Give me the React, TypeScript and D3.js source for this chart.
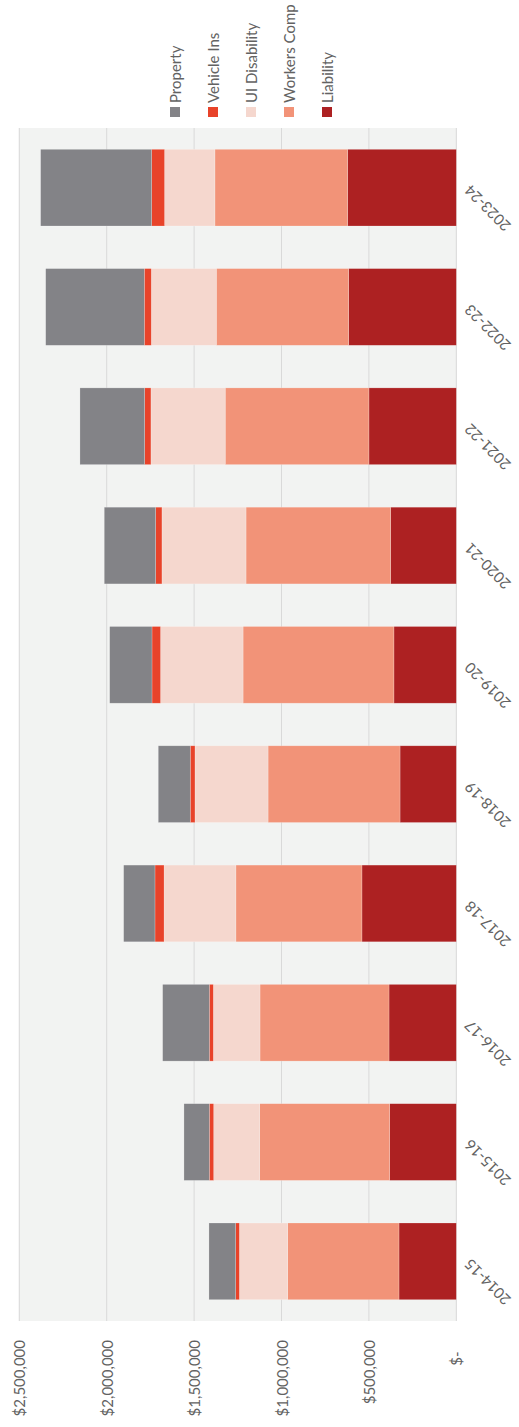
import React, { useRef, useEffect } from 'react'
import * as d3 from 'd3'

// fiscal years, left to right in the unrotated chart
const years = ['2014-15', '2015-16', '2016-17', '2017-18', '2018-19', '2019-20', '2020-21', '2021-22', '2022-23', '2023-24']

// cost per line, in dollars
const liability = [328000, 381000, 385000, 540000, 322000, 357000, 376000, 500000, 616000, 622000]
const workersComp = [637000, 744000, 738000, 721000, 755000, 863000, 827000, 822000, 757000, 759000]
const uiDisability = [276000, 263000, 267000, 411000, 418000, 472000, 481000, 425000, 372000, 288000]
const vehicleIns = [21000, 25000, 23000, 52000, 27000, 49000, 36000, 36000, 40000, 74000]
const property = [153000, 145000, 267000, 179000, 183000, 242000, 294000, 370000, 564000, 635000]

const legendNames = ['Property', 'Vehicle Ins', 'UI Disability', 'Workers Comp', 'Liability']
const valueTicks = [0, 500000, 1000000, 1500000, 2000000, 2500000]

const colors: Record<string, string> = {
    'Property': '#838387',
    'Vehicle Ins': '#e8432a',
    'UI Disability': '#f5d7ce',
    'Workers Comp': '#f29378',
    'Liability': '#ad2122',
}

export default function App() {
    const svgRef = useRef<SVGSVGElement>(null)

    // the picture is the chart turned a quarter to the left
    const pageW = 519
    const pageH = 1427

    useEffect(() => {
        const svg = d3.select(svgRef.current)
        svg.selectAll('*').remove()

        // unrotated frame: pageH wide, pageW tall
        const plotLeft = 106
        const plotRight = 1299
        const plotTop = 19.3
        const plotBottom = 456.3
        const font = 'Lato, "Open Sans", sans-serif'
        const fontSize = 15
        const textColor = '#626262'

        const g = svg.append('g')
            .attr('transform', `translate(0,${pageH}) rotate(-90)`)

        const table = years.map((y, i) => ({
            year: y,
            'Liability': liability[i],
            'Workers Comp': workersComp[i],
            'UI Disability': uiDisability[i],
            'Vehicle Ins': vehicleIns[i],
            'Property': property[i],
        }))

        const xScale = d3.scaleBand()
            .domain(years)
            .range([plotLeft, plotRight])
            .paddingInner(0.357)
            .paddingOuter(0.1785)

        const yScale = d3.scaleLinear()
            .domain([0, 2500000])
            .range([plotBottom, plotTop])

        // plot background
        g.append('rect')
            .attr('x', plotLeft)
            .attr('y', plotTop - 0.5)
            .attr('width', plotRight - plotLeft)
            .attr('height', plotBottom - plotTop + 1)
            .attr('fill', '#f2f3f2')

        // gridlines
        g.append('g')
            .selectAll('line')
            .data(valueTicks)
            .join('line')
                .attr('x1', plotLeft)
                .attr('x2', plotRight)
                .attr('y1', d => yScale(d))
                .attr('y2', d => yScale(d))
                .attr('stroke', '#d9d9d9')
                .attr('stroke-width', 1)

        // value labels
        const fmt = d3.format('$,.0f')
        g.append('g')
            .selectAll('text')
            .data(valueTicks)
            .join('text')
                .attr('x', 87)
                .attr('y', d => yScale(d))
                .attr('text-anchor', 'end')
                .attr('dominant-baseline', 'central')
                .style('white-space', 'pre')
                .attr('font-family', font)
                .attr('font-size', fontSize)
                .attr('fill', textColor)
                .text(d => d === 0 ? '$-   ' : fmt(d))

        // stacked bars, liability sits on the axis
        const stackKeys = ['Liability', 'Workers Comp', 'UI Disability', 'Vehicle Ins', 'Property']
        const series = d3.stack().keys(stackKeys)(table as any)

        g.append('g')
            .selectAll('g')
            .data(series)
            .join('g')
                .attr('fill', d => colors[d.key])
            .selectAll('rect')
            .data(d => d)
            .join('rect')
                .attr('x', d => xScale((d.data as any).year)!)
                .attr('width', xScale.bandwidth())
                .attr('y', d => yScale(d[1]))
                .attr('height', d => yScale(d[0]) - yScale(d[1]))
                .attr('stroke', '#ffffff')
                .attr('stroke-opacity', 0.35)
                .attr('stroke-width', 0.6)

        // category labels, slanted
        g.append('g')
            .selectAll('text')
            .data(years)
            .join('text')
                .attr('transform', d => `translate(${xScale(d)! + xScale.bandwidth() / 2},${plotBottom + 11}) rotate(-45)`)
                .attr('text-anchor', 'end')
                .attr('dy', '0.35em')
                .attr('font-family', font)
                .attr('font-size', fontSize)
                .attr('fill', textColor)
                .text(d => d)

        // legend, one row per series
        const legend = g.append('g')
            .selectAll('g')
            .data(legendNames)
            .join('g')
                .attr('transform', (d, i) => `translate(1310,${175 + i * 38})`)

        legend.append('rect')
            .attr('x', 0)
            .attr('y', -5)
            .attr('width', 10)
            .attr('height', 10)
            .attr('fill', d => colors[d])

        legend.append('text')
            .attr('x', 14)
            .attr('y', 0)
            .attr('dominant-baseline', 'central')
            .attr('font-family', font)
            .attr('font-size', fontSize)
            .attr('fill', textColor)
            .text(d => d)
    }, [])

    return (
        <svg ref={svgRef} width={pageW} height={pageH}
            style={{ position: 'absolute', left: 0, top: 0, background: '#ffffff' }}>
        </svg>
    )
}
